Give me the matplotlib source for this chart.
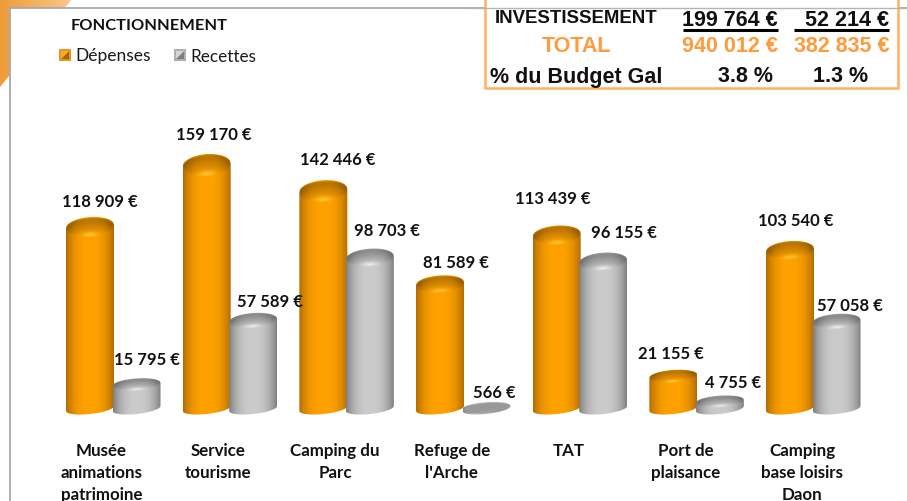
import numpy as np
import matplotlib
matplotlib.use('Agg')
import matplotlib.pyplot as plt
from matplotlib.patches import Polygon, Rectangle

categories = ['Musée\nanimations\npatrimoine', 'Service\ntourisme', 'Camping du\nParc',
              "Refuge de\nl'Arche", 'TAT', 'Port de\nplaisance', 'Camping\nbase loisirs\nDaon']
depenses = [118909, 159170, 142446, 81589, 113439, 21155, 103540]
recettes = [15795, 57589, 98703, 566, 96155, 4755, 57058]
depenses_txt = ['118 909 €', '159 170 €', '142 446 €', '81 589 €', '113 439 €', '21 155 €', '103 540 €']
recettes_txt = ['15 795 €', '57 589 €', '98 703 €', '566 €', '96 155 €', '4 755 €', '57 058 €']

# decalage des etiquettes en pixels
dep_dx = [9.5, 7.5, 14, 16, -3.5, -2, 6]
dep_dy = [26, 30.5, 32, 21.2, 37.4, 23.5, 30.5]
rec_dx = [10.5, 17, 17.5, 7.5, 21, 13.5, 13.5]
rec_dy = [25.5, 19, 27, 16, 29, 19.5, 16.5]

W, H = 907, 502
PX_X = 116.67
PX_Y = 0.00153
ORANGE = ('#b36c00', '#ffa200', '#bd7700', '#ffc535')
GRIS = ('#7f7f7f', '#cbcbcb', '#8e8e8e', '#ececec')
FONT = 'Lato'
ARIAL = 'Liberation Sans'


def rgb(c):
    return np.array(matplotlib.colors.to_rgb(c))


def cylindre(ax, xc, val, cols):
    h = val * PX_Y
    hw = 24
    tilt_bas = 2.5
    tilt_haut = 1.6
    hh_top = 5.5 + val * 3.4e-5
    hh_bas = 5.5
    xs = np.linspace(-hw, hw, 100)
    ys = np.linspace(-10, h + 14, int(h + 24) * 2)
    X, Y = np.meshgrid(xs, ys)
    u = X / hw
    # ombrage horizontal du corps
    t = (np.abs(u) ** 2.6)[..., None]
    img = rgb(cols[1]) * (1 - t) + rgb(cols[0]) * t
    # chapeau
    w = (Y - h - tilt_haut * u) / hh_top
    inside = np.clip((1.1 - (w ** 2 + u ** 2)) * 3.5, 0, 1)[..., None]
    m = np.clip((w + 0.9) / 1.5, 0, 1)[..., None]
    cap = img * (1 - m) + (rgb(cols[2]) * (1 - t * 0.4)) * m
    bev = min(1, h / 7)
    if bev < 0.5:
        cap = np.ones_like(cap) * rgb(cols[2]) * 1.08
    glow = (bev * 0.9 * np.exp(-(u / 0.32) ** 2 - ((w + 0.8) / 0.28) ** 2))[..., None]
    cap = cap * (1 - glow) + rgb(cols[3]) * glow
    img = img * (1 - inside) + cap * inside
    img = np.clip(img, 0, 1)

    im = ax.imshow(img, origin='lower', aspect='auto', interpolation='bilinear',
                   extent=[xc + xs[0] / PX_X, xc + xs[-1] / PX_X, ys[0] / PX_Y, ys[-1] / PX_Y],
                   zorder=3)
    uu = np.linspace(-1, 1, 80)
    haut = h + hh_top * np.sqrt(1 - uu ** 2) + tilt_haut * uu
    bas = -hh_bas * np.sqrt(1 - uu ** 2) + tilt_bas * uu
    px = np.r_[uu, uu[::-1]] * hw / PX_X + xc
    py = np.r_[haut, bas[::-1]] / PX_Y
    clip = Polygon(np.c_[px, py], closed=True, transform=ax.transData)
    im.set_clip_path(clip)


fig = plt.figure(figsize=(W / 100, H / 100), dpi=100, facecolor='white')

# fond et texte en coordonnees pixels
bg = fig.add_axes([0, 0, 1, 1])
bg.set_xlim(0, W)
bg.set_ylim(H, 0)
bg.axis('off')

g = np.linspace(0, 1, 60)[None, :, None]
coin = rgb('#ef9c38') * (1 - g) + rgb('#f8c78c') * g
im = bg.imshow(coin, extent=[0, 72, 88, 0], aspect='auto', zorder=1)
im.set_clip_path(Polygon([(0, 0), (72, 0), (0, 88)], transform=bg.transData))
bg.set_xlim(0, W)
bg.set_ylim(H, 0)
bg.add_patch(Rectangle((10, 9), W, H, fc='white', ec='none', zorder=2))
bg.plot([10, 10, W], [H, 9, 9], color='#a8a8a8', lw=1.3, zorder=3)

# tableau investissement
bg.add_patch(Rectangle((485, -5), 412.5, 94, fc='white', ec='#ffb061', lw=1.8, zorder=4))
bg.plot([470, W], [9, 9], color='#b5b5b5', lw=1, zorder=4.5)
kw = dict(family=ARIAL, fontweight='bold', va='center', zorder=5)
bg.text(576, 18.5, 'INVESTISSEMENT', ha='center', fontsize=13.4, color='#111111', **kw)
bg.text(778, 21, '199 764 €', ha='right', fontsize=15.5, color='#111111', **kw)
bg.text(889, 21, '52 214 €', ha='right', fontsize=15.5, color='#111111', **kw)
bg.plot([683, 778], [30.5, 30.5], color='black', lw=2.2, zorder=5, solid_capstyle='butt')
bg.plot([794, 889], [30.5, 30.5], color='black', lw=2.2, zorder=5, solid_capstyle='butt')
bg.text(576, 46.5, 'TOTAL', ha='center', fontsize=15.5, color='#ff9b3d', **kw)
bg.text(778, 46.5, '940 012 €', ha='right', fontsize=15.5, color='#ff9b3d', **kw)
bg.text(889, 46.5, '382 835 €', ha='right', fontsize=15.5, color='#ff9b3d', **kw)
bg.text(576, 77, '% du Budget Gal', ha='center', fontsize=15.5, color='#111111', **kw)
bg.text(746, 77, '3.8 %', ha='center', fontsize=15.5, color='#111111', **kw)
bg.text(841, 77, '1.3 %', ha='center', fontsize=15.5, color='#111111', **kw)

# titre et legende
bg.text(149.5, 26, 'FONCTIONNEMENT', family=FONT, fontweight='bold', fontsize=11.8,
        ha='center', va='center', color='#111111', zorder=5)


def swatch(x, y, c1, c2, c3):
    bg.add_patch(Rectangle((x, y), 12, 12, fc=c1, ec='none', zorder=5))
    bg.add_patch(Polygon([(x + 2, y + 10), (x + 10, y + 2), (x + 10, y + 10)], fc=c2, ec='none', zorder=6))
    bg.add_patch(Polygon([(x + 2, y + 10), (x + 10, y + 2), (x + 2, y + 2)], fc=c3, ec='none', zorder=6))


swatch(59, 50, '#e8961e', '#a86400', '#f7ab2e')
swatch(174, 50, '#b0b0b0', '#7d7d7d', '#d4d4d4')
bg.text(75, 56.5, 'Dépenses', family=FONT, fontsize=12.5, ha='left', va='center', color='#1a1a1a', zorder=5)
bg.text(190, 56.5, 'Recettes', family=FONT, fontsize=12.3, ha='left', va='center', color='#1a1a1a', zorder=5)

# categories
for i, cat in enumerate(categories):
    xp = 101.5 + 116.8 * i
    for j, ligne in enumerate(cat.split('\n')):
        bg.text(xp, 451 + 22 * j, ligne, family=FONT, fontweight='bold', fontsize=12.2,
                ha='center', va='center', color='#111111', zorder=5)

# barres
ax = fig.add_axes([0, 0, 1, 1])
ax.patch.set_alpha(0)
ax.axis('off')
x0 = 113.25 / PX_X
ax.set_xlim(-x0, (W - 113.25) / PX_X)
ax.set_ylim(-(H - 409.5) / PX_Y, 409.5 / PX_Y)
offset = 23.25 / PX_X

for i in range(len(categories)):
    cylindre(ax, i - offset, depenses[i], ORANGE)
    cylindre(ax, i + offset, recettes[i], GRIS)
ax.set_xlim(-x0, (W - 113.25) / PX_X)
ax.set_ylim(-(H - 409.5) / PX_Y, 409.5 / PX_Y)

for i in range(len(categories)):
    ax.annotate(depenses_txt[i], (i - offset, depenses[i]), xytext=(dep_dx[i], dep_dy[i]),
                textcoords='offset pixels', family=FONT, fontweight='bold', fontsize=12,
                ha='center', va='center', color='#111111', zorder=6)
    ax.annotate(recettes_txt[i], (i + offset, recettes[i]), xytext=(rec_dx[i], rec_dy[i]),
                textcoords='offset pixels', family=FONT, fontweight='bold', fontsize=12,
                ha='center', va='center', color='#111111', zorder=6)

plt.savefig('out.png', dpi=100)
